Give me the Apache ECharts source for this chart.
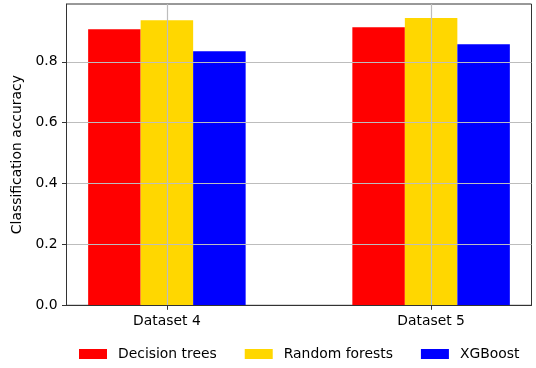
<!DOCTYPE html>
<html>
<head>
<meta charset="utf-8">
<script src="https://cdn.jsdelivr.net/npm/echarts@6/dist/echarts.min.js"></script>
<style>html,body{margin:0;padding:0;background:#fff;}#c{width:536px;height:368px;}</style>
</head>
<body>
<div id="c"></div>
<script>
const categories = ['Dataset 4', 'Dataset 5'];
const categoryPositions = [0, 1];
const seriesNames = ['Decision trees', 'Random forests', 'XGBoost'];
const decisionTrees = [0.907, 0.914];
const randomForests = [0.937, 0.944];
const xgboost = [0.835, 0.858];
const yTicks = [0, 0.2, 0.4, 0.6, 0.8];
const colors = ['#ff0000', '#ffd700', '#0000ff'];

const font = 'DejaVu Sans';
const fs = 13.9;
const chart = echarts.init(document.getElementById('c'), null, {renderer: 'canvas'});
const values = [decisionTrees, randomForests, xgboost];
chart.setOption({
  animation: false,
  textStyle: {fontFamily: font},
  grid: {left: 66.5, top: 4, width: 465, height: 301.3, show: true, borderColor: '#333', borderWidth: 1, backgroundColor: 'transparent'},
  legend: {
    data: seriesNames, left: 79, top: 347, padding: 0, icon: 'rect', itemWidth: 28, itemHeight: 10, itemGap: 28,
    textStyle: {fontFamily: font, fontSize: fs, color: '#000', padding: [0, 0, 0, 6]}
  },
  xAxis: {
    type: 'value', min: -0.38, max: 1.38, z: 3,
    axisLine: {show: true, onZero: false, lineStyle: {color: '#333', width: 1}},
    axisTick: {show: true, customValues: categoryPositions, length: 4.5, lineStyle: {color: '#333'}},
    axisLabel: {customValues: categoryPositions, formatter: v => categories[Math.round(v)], color: '#000', fontFamily: font, fontSize: fs, margin: 9},
    splitLine: {show: true, lineStyle: {color: '#bdbdbd', width: 1.2}}
  },
  yAxis: {
    type: 'value', min: 0, max: 0.99, z: 3,
    name: 'Classification accuracy', nameLocation: 'middle', nameGap: 33,
    nameTextStyle: {fontFamily: font, fontSize: fs, color: '#000'},
    axisLine: {show: true, onZero: false, lineStyle: {color: '#333', width: 1}},
    axisTick: {show: true, customValues: yTicks, length: 4.5, lineStyle: {color: '#333'}},
    axisLabel: {customValues: yTicks, formatter: v => v.toFixed(1), color: '#000', fontFamily: font, fontSize: fs, margin: 9},
    splitLine: {show: true, lineStyle: {color: '#bdbdbd', width: 1.2}}
  },
  series: seriesNames.map((n, i) => ({
    name: n, type: 'bar', barWidth: 52.5, barGap: '0%',
    itemStyle: {color: colors[i]},
    data: categoryPositions.map((p, j) => [p, values[i][j]])
  }))
});
</script>
</body>
</html>
